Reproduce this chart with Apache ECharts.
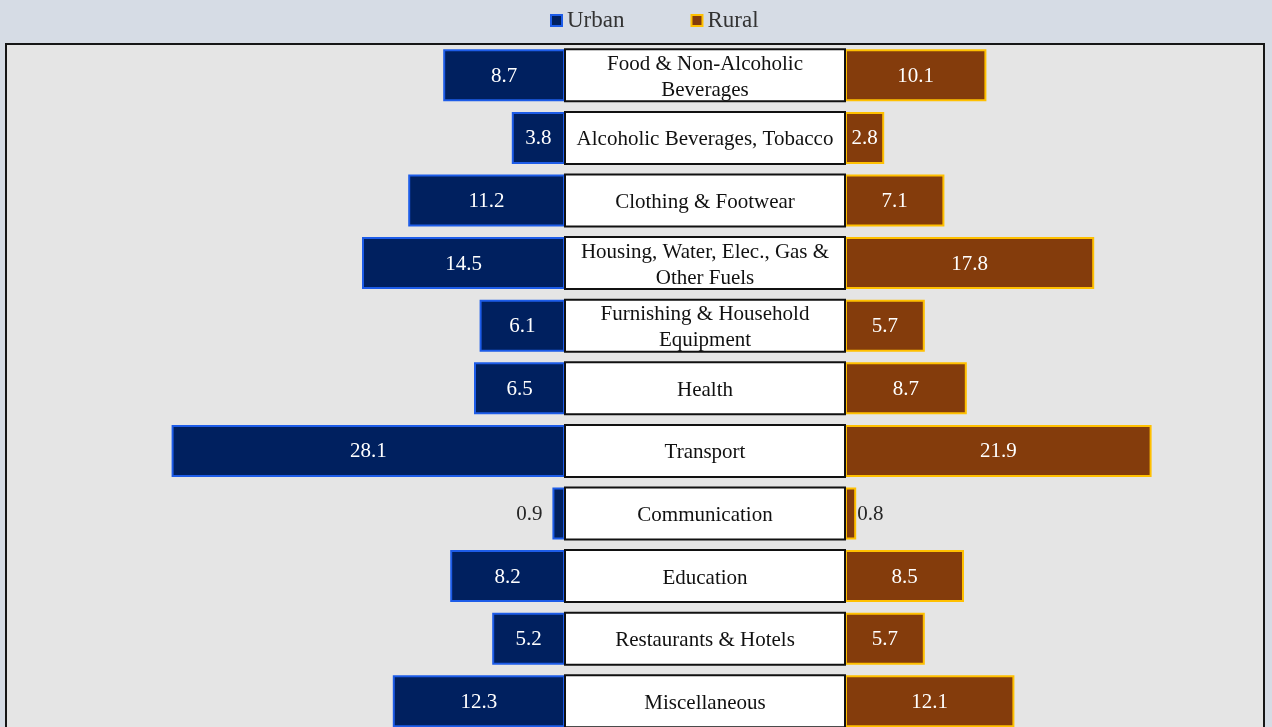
<!DOCTYPE html>
<html>
<head>
<meta charset="utf-8">
<script src="https://cdn.jsdelivr.net/npm/echarts@6/dist/echarts.min.js"></script>
<style>
html,body{margin:0;padding:0;background:#d6dce5;}
#chart{width:1272px;height:727px;}
</style>
</head>
<body>
<div id="chart"></div>
<script>
const categories = [
  "Food & Non-Alcoholic\nBeverages",
  "Alcoholic Beverages, Tobacco",
  "Clothing & Footwear",
  "Housing, Water, Elec., Gas &\nOther Fuels",
  "Furnishing & Household\nEquipment",
  "Health",
  "Transport",
  "Communication",
  "Education",
  "Restaurants & Hotels",
  "Miscellaneous"
];
const urban = [8.7, 3.8, 11.2, 14.5, 6.1, 6.5, 28.1, 0.9, 8.2, 5.2, 12.3];
const rural = [10.1, 2.8, 7.1, 17.8, 5.7, 8.7, 21.9, 0.8, 8.5, 5.7, 12.1];

const BOX = 10;        // half-width of the central label box, in axis units
const SMALL = 1.5;     // values below this get their label outside the bar
const FONT = '"Liberation Serif", "DejaVu Serif", serif';

const chart = echarts.init(document.getElementById('chart'));

function urbanData() {
  return urban.map(v => ({
    value: -v,
    label: v < SMALL ? {position: 'left', distance: 10, color: '#262626'} : {}
  }));
}
function ruralData() {
  return rural.map(v => ({
    value: v,
    label: v < SMALL ? {position: 'right', distance: 1, color: '#262626'} : {}
  }));
}

const option = {
  backgroundColor: '#d6dce5',
  animation: false,
  graphic: [{
    type: 'rect',
    z: -10,
    shape: {x: 6, y: 44, width: 1258, height: 720},
    style: {fill: '#e5e5e5', stroke: '#161616', lineWidth: 2}
  }],
  legend: {
    data: ['Urban', 'Rural'],
    top: 4,
    left: 545,
    itemWidth: 11,
    itemHeight: 11,
    itemGap: 66,
    icon: 'rect',
    textStyle: {fontFamily: FONT, fontSize: 23, color: '#333'}
  },
  grid: {left: 145, right: 7, top: 44, height: 688.6, containLabel: false, outerBoundsMode: 'none'},
  xAxis: {
    type: 'value', min: -40, max: 40,
    show: false
  },
  yAxis: {
    type: 'category', data: categories, inverse: true,
    show: false
  },
  series: [
    {
      name: 'baseL', type: 'bar', stack: 'all', barCategoryGap: '17%',
      data: categories.map(() => -BOX),
      itemStyle: {color: 'transparent'}, silent: true
    },
    {
      name: 'Urban', type: 'bar', stack: 'all',
      data: urbanData(),
      itemStyle: {color: '#00205f', borderColor: '#1d5ce8', borderWidth: 2},
      label: {
        show: true, position: 'inside', color: '#fff',
        fontFamily: FONT, fontSize: 21, offset: [0, 1],
        formatter: p => Math.abs(p.value).toFixed(1)
      }
    },
    {
      name: 'baseR', type: 'bar', stack: 'all',
      data: categories.map(() => BOX),
      itemStyle: {color: 'transparent'}, silent: true
    },
    {
      name: 'Rural', type: 'bar', stack: 'all',
      data: ruralData(),
      itemStyle: {color: '#843c0c', borderColor: '#ffc000', borderWidth: 2},
      label: {
        show: true, position: 'inside', color: '#fff',
        fontFamily: FONT, fontSize: 21, offset: [0, 1],
        formatter: p => p.value.toFixed(1)
      }
    },
    {
      name: 'box', type: 'custom', z: 5,
      data: categories.map((c, i) => [0, i]),
      encode: {x: 0, y: 1},
      renderItem: function (params, api) {
        const idx = api.value(1);
        const p0 = api.coord([-BOX, idx]);
        const p1 = api.coord([BOX, idx]);
        const h = api.size([0, 1])[1] * 0.83;
        return {
          type: 'group',
          children: [
            {
              type: 'rect',
              shape: {x: p0[0], y: p0[1] - h / 2, width: p1[0] - p0[0], height: h},
              style: {fill: '#ffffff', stroke: '#111', lineWidth: 2}
            },
            {
              type: 'text',
              x: (p0[0] + p1[0]) / 2, y: p0[1] + 2,
              style: {
                text: categories[idx], align: 'center', verticalAlign: 'middle',
                fontFamily: FONT, fontSize: 21, lineHeight: 26, fill: '#111'
              }
            }
          ]
        };
      }
    }
  ]
};
chart.setOption(option);
</script>
</body>
</html>
